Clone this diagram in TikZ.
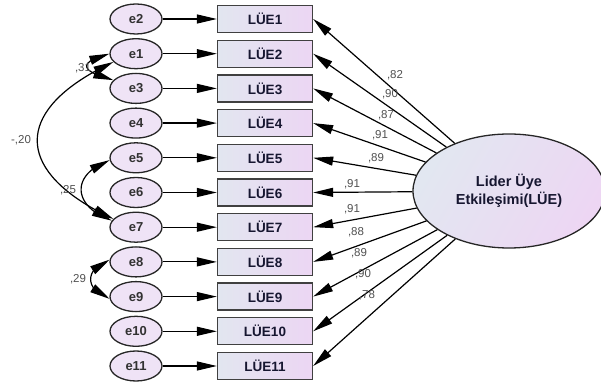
\documentclass[tikz,border=0pt]{standalone}
\usepackage{fontspec}
\setmainfont{Liberation Sans}
\usetikzlibrary{arrows.meta,shapes.geometric,bending}

\definecolor{boxL}{RGB}{226,230,240}
\definecolor{boxR}{RGB}{236,214,243}
\definecolor{errFill}{RGB}{239,227,246}
\definecolor{latL}{RGB}{226,231,241}
\definecolor{latR}{RGB}{237,214,243}
\definecolor{numGray}{RGB}{80,80,80}
\definecolor{errText}{RGB}{50,50,50}
\definecolor{boxText}{RGB}{22,22,48}

\begin{document}
\begin{tikzpicture}[x=1pt,y=1pt,
  tip/.tip={Triangle[length=20pt,width=9pt]},
  errnode/.style={ellipse, draw=black!85, line width=1.3pt,
    minimum width=52pt, minimum height=30pt, inner sep=0pt,
    fill=errFill, text=errText,
    font=\fontsize{13}{15}\selectfont\bfseries},
  indbox/.style={rectangle, draw=black!75, line width=1.3pt,
    minimum width=95pt, minimum height=27pt, inner sep=0pt,
    left color=boxL, right color=boxR, text=boxText,
    font=\fontsize{13.5}{15}\selectfont\bfseries},
  latent/.style={ellipse, draw=black!85, line width=1.3pt,
    minimum width=192pt, minimum height=114pt, inner sep=0pt,
    left color=latL, right color=latR, shading angle=60,
    align=center, text=boxText,
    font=\fontsize{14.5}{18}\selectfont\bfseries},
  regarrow/.style={line width=1.2pt, -tip},
  covarrow/.style={line width=1.2pt, tip-tip},
  coef/.style={font=\fontsize{11.5}{13}\selectfont, text=numGray, inner sep=0pt},
]
\useasboundingbox (0,0) rectangle (601,385);

% error terms, indicators and error paths
\foreach \i/\e in {0/2,1/1,2/3,3/4,4/5,5/6,6/7,7/8,8/9,9/10,10/11} {
  \pgfmathsetmacro\yy{366-34.7*\i}
  \pgfmathtruncatemacro\k{\i+1}
  \node[errnode] (e\e) at (136,\yy) {e\e};
  \node[indbox] (b\k) at (265,\yy) {LÜE\k};
  \draw[regarrow] (e\e) -- (b\k);
}

% latent factor
\node[latent] (L) at (509,194) {Lider Üye\\Etkileşimi(LÜE)};

% factor loadings
\foreach \k/\v/\lx/\ly in {1/82/395/75, 2/90/390/94, 3/87/386/115, 4/91/380/135,
    5/89/376/158, 6/91/352/184, 7/91/352/209, 8/88/356/232, 9/89/359/253,
    10/90/363/274, 11/78/367/295} {
  \draw[regarrow] (L) -- (b\k.east);
  \node[coef] (c\k) at (\lx,385-\ly) {,\v};
}

% error covariances
\draw[covarrow] (e1.180) .. controls +(195:34) and +(165:34) .. (e3.160);
\draw[covarrow] (e1.200) .. controls +(205:112) and +(155:112) .. (e7.160);
\draw[covarrow] (e5.185) .. controls +(200:42) and +(160:42) .. (e7.165);
\draw[covarrow] (e8.175) .. controls +(200:27) and +(160:27) .. (e9.185);

\node[coef] (r31) at (83,317) {,31};
\node[coef] (r20) at (21,245) {-,20};
\node[coef] (r25) at (68,195) {,25};
\node[coef] (r29) at (78,106) {,29};
\end{tikzpicture}
\end{document}
